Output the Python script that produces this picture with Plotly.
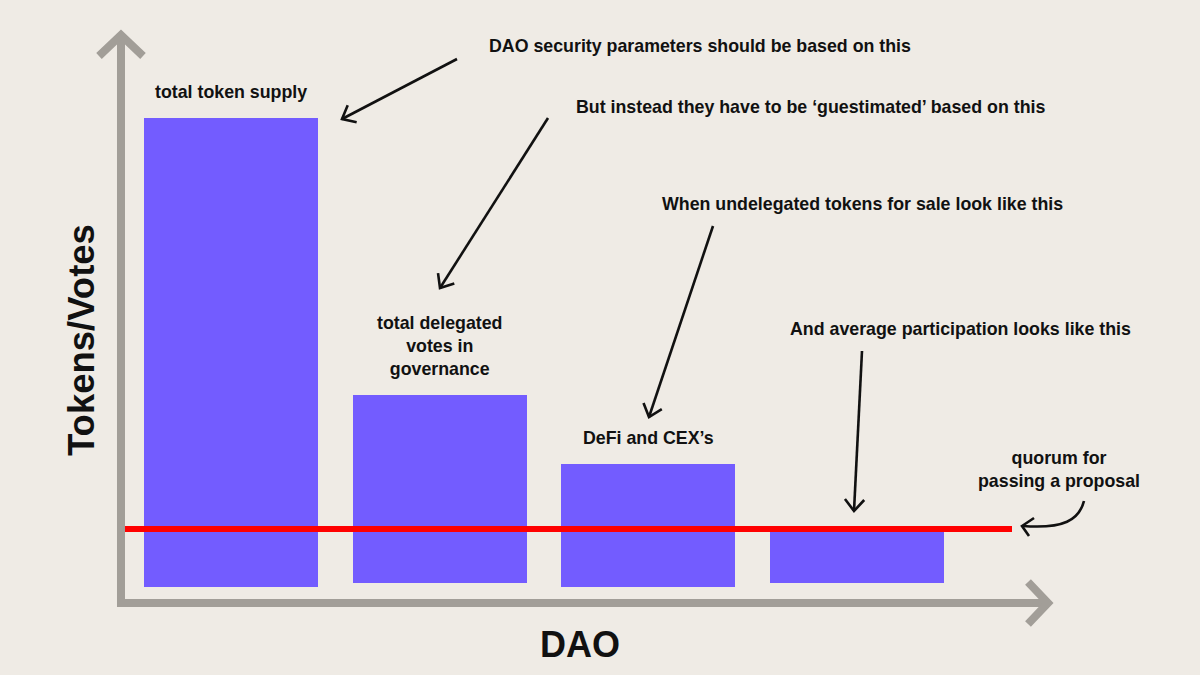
import math
import plotly.graph_objects as go

# ---- data ----
categories = ["supply", "delegated", "defi_cex", "participation"]
bar_labels = ["total token supply", "total delegated<br>votes in<br>governance", "DeFi and CEX’s", ""]
bar_values = [469, 188, 123, 52]   # tokens/votes (bar heights)
bar_bases = [13, 17, 13, 17]       # hand-drawn bars float slightly above the axis
quorum = 71

callouts = [
    "DAO security parameters should be based on this",
    "But instead they have to be ‘guestimated’ based on this",
    "When undelegated tokens for sale look like this",
    "And average participation looks like this",
    "quorum for<br>passing a proposal",
]
y_title = "Tokens/Votes"
x_title = "DAO"

# ---- style ----
W, H = 1200, 675
BG = "#efebe5"
BAR = "#735cff"
RED = "#ff0000"
GRAY = "#a29e98"
INK = "#111111"
FONT = "Liberation Sans, Arial, sans-serif"
TXT = 17.8


def px(x):
    return x / W


def py(y):
    return 1 - y / H


def path(points, close=False):
    s = "M " + " L ".join(f"{px(x):.5f},{py(y):.5f}" for x, y in points)
    return s + (" Z" if close else "")


fig = go.Figure()

fig.add_trace(go.Bar(
    x=categories, y=bar_values, base=bar_bases,
    width=0.834, marker=dict(color=BAR, line=dict(width=0)),
    hoverinfo="skip", showlegend=False,
))

shapes = []

# quorum line (y on data scale)
shapes.append(dict(type="line", xref="paper", yref="y",
                   x0=px(124), x1=px(1012), y0=quorum, y1=quorum,
                   line=dict(color=RED, width=6), layer="above"))

# axis arrows
shapes.append(dict(type="path", xref="paper", yref="paper",
                   path=path([(121, 607), (121, 37)]), line=dict(color=GRAY, width=8)))
shapes.append(dict(type="path", xref="paper", yref="paper",
                   path=path([(99, 56), (121, 35), (143, 56)]), line=dict(color=GRAY, width=8)))
shapes.append(dict(type="path", xref="paper", yref="paper",
                   path=path([(117, 603), (1047, 603)]), line=dict(color=GRAY, width=8)))
shapes.append(dict(type="path", xref="paper", yref="paper",
                   path=path([(1028, 582), (1048, 603), (1028, 624)]), line=dict(color=GRAY, width=8)))


def arrow(x0, y0, x1, y1, L=15, ang=40):
    dx, dy = x1 - x0, y1 - y0
    n = math.hypot(dx, dy)
    ux, uy = dx / n, dy / n
    pts = []
    for s in (1, -1):
        a = math.radians(ang * s)
        rx = ux * math.cos(a) - uy * math.sin(a)
        ry = ux * math.sin(a) + uy * math.cos(a)
        pts.append((x1 - L * rx, y1 - L * ry))
    shapes.append(dict(type="path", xref="paper", yref="paper",
                       path=path([(x0, y0), (x1, y1)]), line=dict(color=INK, width=2.6)))
    shapes.append(dict(type="path", xref="paper", yref="paper",
                       path=path([pts[0], (x1, y1), pts[1]]), line=dict(color=INK, width=2.6)))


arrow(457, 59, 342, 119)
arrow(548, 118, 440, 288)
arrow(713, 226, 649, 417)
arrow(862, 351, 854, 511)

# curved arrow to quorum line
shapes.append(dict(type="path", xref="paper", yref="paper",
                   path=f"M {px(1084):.5f},{py(501):.5f} C {px(1079):.5f},{py(520):.5f} "
                        f"{px(1064):.5f},{py(529):.5f} {px(1023):.5f},{py(526):.5f}",
                   line=dict(color=INK, width=2.6)))
shapes.append(dict(type="path", xref="paper", yref="paper",
                   path=path([(1034, 518), (1022, 526), (1029, 536)]),
                   line=dict(color=INK, width=2.6)))

annotations = []
for cat, lab, v, b in zip(categories, bar_labels, bar_values, bar_bases):
    if lab:
        annotations.append(dict(x=cat, y=v + b, xref="x", yref="y", text=lab,
                                showarrow=False, yanchor="bottom", yshift=14,
                                font=dict(family=FONT, size=TXT, color=INK, weight="bold")))

callout_pos = [(700, 46), (810, 107), (862, 204), (960, 329), (1059, 469)]
for txt, (x, y) in zip(callouts, callout_pos):
    annotations.append(dict(x=px(x), y=py(y), xref="paper", yref="paper", text=txt,
                            showarrow=False, xanchor="center", yanchor="middle",
                            font=dict(family=FONT, size=TXT, color=INK, weight="bold")))

annotations.append(dict(x=px(82), y=py(340), xref="paper", yref="paper", text=y_title,
                        textangle=-90, showarrow=False, xanchor="center", yanchor="middle",
                        font=dict(family=FONT, size=36.5, color=INK, weight="bold")))
annotations.append(dict(x=px(580), y=py(644), xref="paper", yref="paper", text=x_title,
                        showarrow=False, xanchor="center", yanchor="middle",
                        font=dict(family=FONT, size=36, color=INK, weight="bold")))

fig.update_layout(
    width=W, height=H,
    margin=dict(l=0, r=0, t=0, b=0),
    paper_bgcolor=BG, plot_bgcolor=BG,
    shapes=shapes, annotations=annotations,
    xaxis=dict(type="category", categoryorder="array", categoryarray=categories,
               range=[-1.107, 4.644], visible=False, fixedrange=True),
    yaxis=dict(range=[-75, 600], visible=False, fixedrange=True),
    bargap=0, showlegend=False,
)

fig.write_html(
    "out.html",
    config={"displayModeBar": False},
    post_script="document.body.style.margin='0';document.body.style.overflow='hidden';"
                "document.body.style.background='" + BG + "';",
)
